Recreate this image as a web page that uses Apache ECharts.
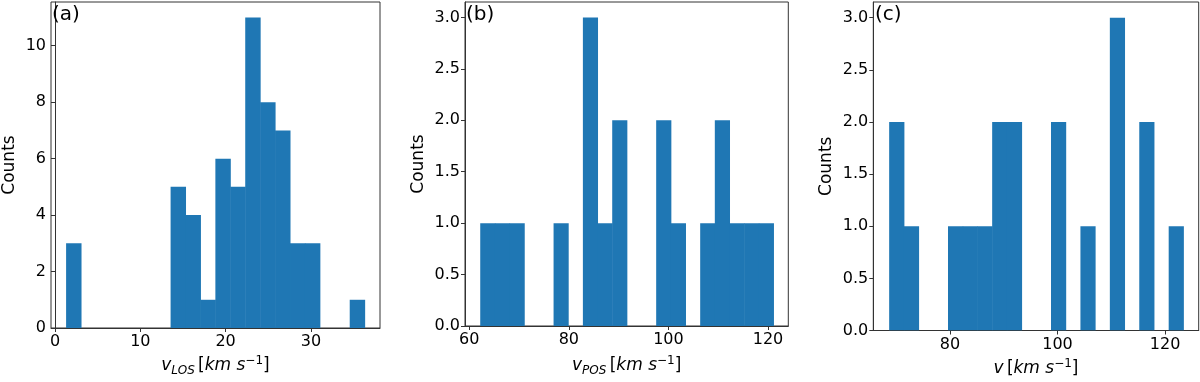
<!DOCTYPE html>
<html>
<head>
<meta charset="utf-8">
<script src="https://cdn.jsdelivr.net/npm/echarts@6/dist/echarts.min.js"></script>
<style>
html,body{margin:0;padding:0;background:#fff;}
#chart{width:1200px;height:382px;}
</style>
</head>
<body>
<div id="chart"></div>
<script>
// ---- Data ----
const edgesA = [1.3,3.05,4.8,6.55,8.3,10.05,11.8,13.55,15.3,17.05,18.8,20.55,22.3,24.05,25.8,27.55,29.3,31.05,32.8,34.55,36.3];
const countsA = [3,0,0,0,0,0,0,5,4,1,6,5,11,8,7,3,3,0,0,1];

const edgesB = [62.2,65.15,68.09,71.04,73.98,76.93,79.87,82.82,85.76,88.71,91.65,94.6,97.54,100.49,103.43,106.38,109.32,112.27,115.21,118.16,121.1];
const countsB = [1,1,1,0,0,1,0,3,1,2,0,0,2,1,0,1,2,1,1,1];

const edgesC = [68.7,71.44,74.17,76.91,79.64,82.38,85.11,87.85,90.58,93.32,96.05,98.79,101.52,104.26,106.99,109.73,112.46,115.2,117.93,120.67,123.4];
const countsC = [2,1,0,0,1,1,1,2,2,0,0,2,0,1,0,3,0,2,0,1];

const xTicksA = [0,10,20,30];
const xTicksB = [60,80,100,120];
const xTicksC = [80,100,120];
const yTicksA = [0,2,4,6,8,10];
const yTicksBC = [0,0.5,1,1.5,2,2.5,3];

const panelLabels = ['(a)','(b)','(c)'];
const xNames = [
  '{i|v}{sub|LOS} {n|[}{i|km s}{sup|−1}{n|]}',
  '{i|v}{sub|POS} {n|[}{i|km s}{sup|−1}{n|]}',
  '{i|v} {n|[}{i|km s}{sup|−1}{n|]}'
];

// ---- Build ----
const FONT = 'DejaVu Sans';
const BLUE = '#1f77b4';
const AXIS = '#333';

function binsData(edges, counts){
  return counts.map((c,i)=>[edges[i], edges[i+1], c]);
}

const grids = [
  {left:50, right:820, top:2, bottom:48.7},
  {left:465, right:411.7, top:2, bottom:54.3},
  {left:873.3, right:1.3, top:2, bottom:48.5}
];

const xRanges = [[-0.47,38.1],[59.14,124.08],[65.75,126.25]];
const yMax = [11.55,3.15,3.15];
const xTicks = [xTicksA,xTicksB,xTicksC];
const yTicks = [yTicksA,yTicksBC,yTicksBC];
const xGaps = [27,29,27];
const yGaps = [33,38,38];

const richName = {
  i:{fontFamily:FONT,fontStyle:'italic',fontSize:17,color:'#000',lineHeight:22},
  n:{fontFamily:FONT,fontSize:17,color:'#000',lineHeight:22},
  sub:{fontFamily:FONT,fontStyle:'italic',fontSize:12,color:'#000',verticalAlign:'bottom',lineHeight:12},
  sup:{fontFamily:FONT,fontSize:12,color:'#000',verticalAlign:'top',lineHeight:12}
};

const xAxis = [], yAxis = [], series = [], graphic = [];
for(let k=0;k<3;k++){
  xAxis.push({
    type:'value', gridIndex:k, min:xRanges[k][0], max:xRanges[k][1],
    name: xNames[k], nameLocation:'middle', nameGap:xGaps[k],
    nameTextStyle:{rich:richName},
    axisLine:{show:true,onZero:false,lineStyle:{color:AXIS,width:1}},
    axisTick:{show:true,inside:false,length:4,lineStyle:{color:AXIS},customValues:xTicks[k]},
    axisLabel:{color:'#000',fontFamily:FONT,fontSize:16,margin:6,customValues:xTicks[k]},
    splitLine:{show:false}
  });
  yAxis.push({
    type:'value', gridIndex:k, min:0, max:yMax[k],
    name:'Counts', nameLocation:'middle', nameGap:yGaps[k],
    nameTextStyle:{color:'#000',fontFamily:FONT,fontSize:17},
    axisLine:{show:true,lineStyle:{color:AXIS,width:1}},
    axisTick:{show:true,inside:false,length:4,lineStyle:{color:AXIS},customValues:yTicks[k]},
    axisLabel:{color:'#000',fontFamily:FONT,fontSize:16,margin:5,customValues:yTicks[k],
      formatter: k===0 ? (v)=>String(v) : (v)=>v.toFixed(1)},
    splitLine:{show:false}
  });
}
const datasets = [binsData(edgesA,countsA), binsData(edgesB,countsB), binsData(edgesC,countsC)];
for(let k=0;k<3;k++){
  series.push({
    type:'custom', xAxisIndex:k, yAxisIndex:k,
    data: datasets[k],
    encode:{x:[0,1], y:2},
    clip:true,
    renderItem:function(params, api){
      const x0 = api.value(0), x1 = api.value(1), c = api.value(2);
      if(!c) return null;
      const p0 = api.coord([x0, 0]);
      const p1 = api.coord([x1, c]);
      return {type:'rect', shape:{x:p0[0], y:p1[1], width:p1[0]-p0[0]+0.5, height:p0[1]-p1[1]},
        style:{fill:BLUE}};
    }
  });
}
const labelPos = [[52,5],[466,5],[875,5]];
for(let k=0;k<3;k++){
  graphic.push({type:'text', left:labelPos[k][0], top:labelPos[k][1], z:100,
    style:{text:panelLabels[k], fill:'#000', font:'20px "DejaVu Sans"'}});
}

const chart = echarts.init(document.getElementById('chart'), null, {renderer:'canvas'});
chart.setOption({
  animation:false,
  backgroundColor:'#fff',
  grid: grids.map(g=>Object.assign({show:true,borderColor:AXIS,borderWidth:1,backgroundColor:'transparent'},g)),
  xAxis, yAxis, series, graphic
});
</script>
</body>
</html>
